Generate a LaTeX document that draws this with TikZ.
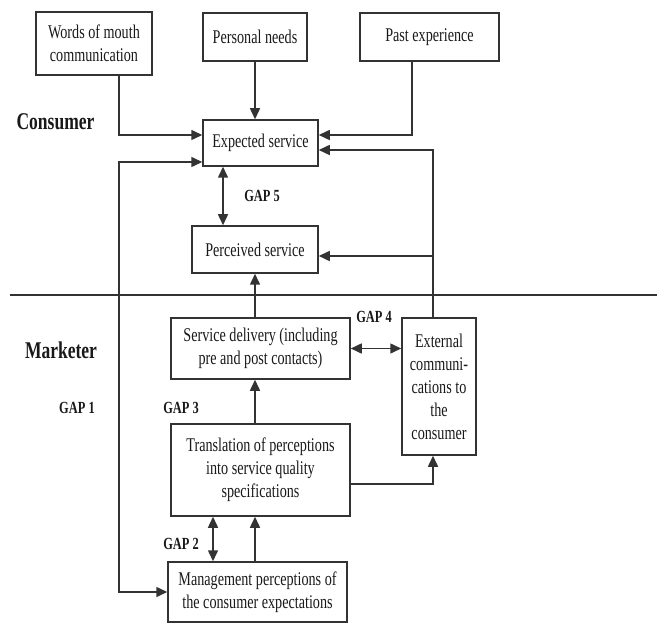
\documentclass[tikz,border=0pt]{standalone}
\usepackage{fontspec}
\setmainfont{Liberation Serif}[FakeStretch=0.73]
\usetikzlibrary{positioning,arrows.meta}

\begin{document}
\begin{tikzpicture}[x=0.5pt,y=-0.5pt]
		\tikzstyle{every node}+=[inner sep=0pt]
		\tikzstyle{box}=[draw=black!80, line width=0.75pt, align=center, text=black!90, font=\fontsize{9.7}{11.5}\selectfont]
		\tikzstyle{gap}=[font=\fontsize{8.5}{10}\selectfont\bfseries, text=black!90]
		\tikzstyle{side}=[font=\fontsize{12}{14}\selectfont\bfseries, text=black!90]
		\tikzstyle{arr}=[draw=black!80, line width=0.75pt, -{Triangle[length=5.5pt,width=5pt]}]
		\tikzstyle{darr}=[arr, {Triangle[length=5.5pt,width=5pt]}-{Triangle[length=5.5pt,width=5pt]}]
		\useasboundingbox (0,0) rectangle (657,624);
		% consumer side
		\node [box, minimum width=58pt, minimum height=31.5pt] (mouth) at (94,43.5) {Words of mouth\\communication};
		\node [box, minimum width=52pt, minimum height=24pt] (needs) at (255,37) {Personal needs};
		\node [box, minimum width=69.5pt, minimum height=24pt] (past) at (429.5,37) {Past experience};
		\node [box, minimum width=57.5pt, minimum height=23pt] (expected) at (260.5,143) {Expected service};
		\node [box, minimum width=63pt, minimum height=23.5pt] (perceived) at (255,249.5) {Perceived service};
		% marketer side
		\node [box, minimum width=89.5pt, minimum height=30.5pt] (delivery) at (260.5,348.5) {Service delivery (including\\pre and post contacts)};
		\node [box, minimum width=37pt, minimum height=68.5pt] (external) at (439,386.5) {External\\communi-\\cations to\\the\\consumer};
		\node [box, minimum width=89.5pt, minimum height=46pt] (translation) at (260.5,470) {Translation of perceptions\\into service quality\\specifications};
		\node [box, minimum width=89.5pt, minimum height=30pt] (management) at (257.5,592) {Management perceptions of\\the consumer expectations};
		% divider and labels
		\draw [black!80, line width=0.75pt] (10,295) -- (657,295);
		\node [side] (consumer) at (55.5,122) {Consumer};
		\node [side] (marketer) at (61,350) {Marketer};
		\node [gap] (gap5) at (262,196) {GAP 5};
		\node [gap] (gap4) at (374,317) {GAP 4};
		\node [gap] (gap1) at (77,408) {GAP 1};
		\node [gap] (gap3) at (181,408) {GAP 3};
		\node [gap] (gap2) at (181,544) {GAP 2};
		% connectors
		\draw [arr] ([xshift=12.5pt]mouth.south) |- ([yshift=4pt]expected.west);
		\draw [arr] (needs.south) -- (needs.south |- expected.north);
		\draw [arr] ([xshift=-8.75pt]past.south) |- ([yshift=4pt]expected.east);
		\draw [arr] ([xshift=-3pt]external.north) |- ([yshift=-3.5pt]expected.east);
		\draw [arr] ([xshift=-3pt]external.north) |- ([yshift=-3.25pt]perceived.east);
		\draw [darr] ([yshift=-9.5pt]expected.west) -| ([xshift=12.5pt]mouth.south |- management.west) -- (management.west);
		\draw [darr] ([xshift=-18.75pt]expected.south) -- ([xshift=-18.75pt]expected.south |- perceived.north);
		\draw [arr] (delivery.north -| perceived.south) -- (perceived.south);
		\draw [darr] (delivery.east) -- (delivery.east -| external.west);
		\draw [arr] (translation.north -| perceived.south) -- (delivery.south -| perceived.south);
		\draw [arr] ([yshift=-7pt]translation.east) -| ([xshift=-3pt]external.south);
		\draw [darr] ([xshift=-22.25pt]management.north) -- ([xshift=-22.25pt]management.north |- translation.south);
		\draw [arr] (management.north -| perceived.south) -- (translation.south -| perceived.south);
\end{tikzpicture}
\end{document}
